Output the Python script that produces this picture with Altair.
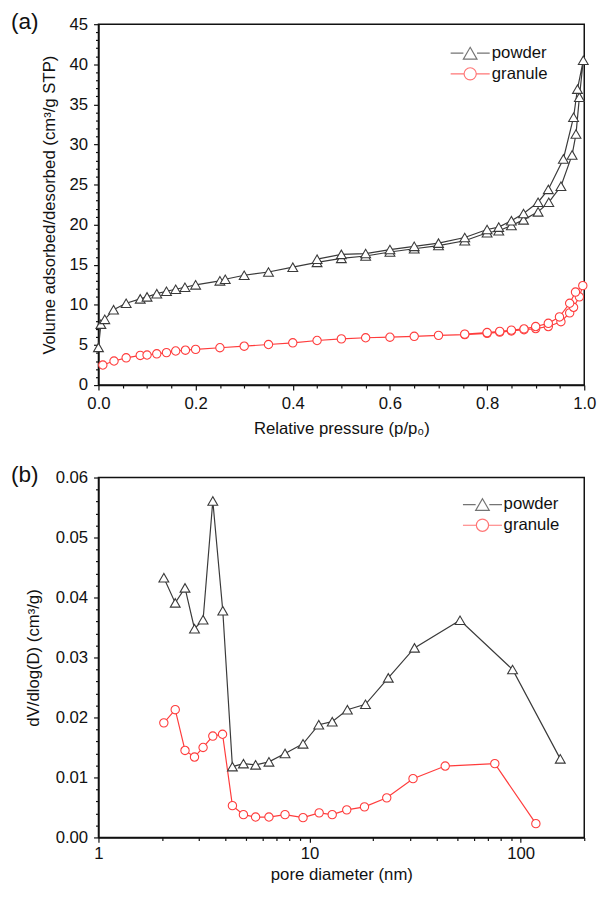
import altair as alt
import pandas as pd

# ---------------- panel (a): N2 isotherms ----------------
powder_p = [0.000, 0.005, 0.013, 0.031, 0.057, 0.086, 0.100, 0.120, 0.140, 0.159,
            0.178, 0.200, 0.250, 0.261, 0.300, 0.350, 0.400, 0.450, 0.500, 0.550,
            0.600, 0.650, 0.700, 0.754, 0.800, 0.824, 0.850, 0.875, 0.905, 0.927,
            0.952, 0.975, 0.983, 0.990, 0.998,
            0.986, 0.978, 0.957, 0.926, 0.905, 0.875, 0.850, 0.824, 0.800, 0.754,
            0.700, 0.650, 0.600, 0.550, 0.500, 0.450]
powder_v = [4.7, 7.6, 8.2, 9.4, 10.2, 10.75, 11.0, 11.4, 11.7, 11.95,
            12.2, 12.5, 13.0, 13.2, 13.7, 14.1, 14.7, 15.3, 15.8, 16.1,
            16.6, 17.0, 17.4, 18.0, 19.0, 19.25, 19.9, 20.6, 21.6, 22.8,
            24.8, 28.7, 31.3, 35.9, 40.5,
            36.9, 33.4, 28.2, 24.4, 22.8, 21.4, 20.5, 19.7, 19.4, 18.4,
            17.7, 17.3, 16.9, 16.4, 16.3, 15.7]

granule_p = [0.009, 0.032, 0.057, 0.086, 0.100, 0.120, 0.140, 0.159, 0.179, 0.200,
             0.250, 0.300, 0.350, 0.400, 0.450, 0.500, 0.550, 0.600, 0.650, 0.700,
             0.754, 0.800, 0.826, 0.850, 0.876, 0.900, 0.926, 0.952, 0.970, 0.978,
             0.990, 0.997,
             0.982, 0.970, 0.949, 0.926, 0.900, 0.876, 0.850, 0.826, 0.800, 0.754]
granule_v = [2.5, 3.0, 3.4, 3.7, 3.75, 3.9, 4.05, 4.25, 4.35, 4.45,
             4.66, 4.85, 5.06, 5.27, 5.56, 5.76, 5.9, 5.97, 6.08, 6.2,
             6.3, 6.45, 6.6, 6.75, 6.9, 7.05, 7.3, 7.9, 9.0, 9.7,
             11.0, 12.4,
             11.6, 10.2, 8.5, 7.7, 7.3, 7.0, 6.85, 6.7, 6.55, 6.35]

# ---------------- panel (b): pore size distribution ----------------
powder_d = [2.04, 2.31, 2.57, 2.85, 3.13, 3.48, 3.88, 4.31, 4.86, 5.55, 6.42,
            7.65, 9.31, 11.05, 12.8, 15.1, 18.4, 23.6, 31.4, 51.6, 91.5, 154]
powder_dv = [0.0433, 0.0391, 0.0416, 0.0348, 0.0363, 0.0561, 0.0378, 0.0118,
             0.0123, 0.0121, 0.0126, 0.0140, 0.0156, 0.0188, 0.0193, 0.0213,
             0.0222, 0.0266, 0.0316, 0.0362, 0.0280, 0.0131]
granule_d = [2.04, 2.31, 2.57, 2.85, 3.13, 3.48, 3.87, 4.31, 4.86, 5.55, 6.42,
             7.65, 9.31, 11.1, 12.8, 15.0, 18.2, 23.2, 30.9, 43.9, 75.4, 118]
granule_dv = [0.0191, 0.0213, 0.0145, 0.0134, 0.0150, 0.0169, 0.0172, 0.0053,
              0.0038, 0.0034, 0.0034, 0.0038, 0.0033, 0.0041, 0.0038, 0.0046,
              0.0051, 0.0066, 0.0098, 0.0119, 0.0123, 0.0023]

series_names = ["powder", "granule"]
series_colors = ["#3a3a3a", "#ff3c3c"]
series_shapes = ["triangle-up", "circle"]
series_sizes = [100, 72]

# tick labels / tick positions
a_x_major = [0.0, 0.2, 0.4, 0.6, 0.8, 1.0]
a_x_minor = [0.05, 0.1, 0.15, 0.25, 0.3, 0.35, 0.45, 0.5, 0.55, 0.65, 0.7, 0.75,
             0.85, 0.9, 0.95]
a_y_major = [0, 5, 10, 15, 20, 25, 30, 35, 40, 45]
a_y_minor = [1, 2, 3, 4, 6, 7, 8, 9, 11, 12, 13, 14, 16, 17, 18, 19, 21, 22, 23, 24,
             26, 27, 28, 29, 31, 32, 33, 34, 36, 37, 38, 39, 41, 42, 43, 44]
b_x_major = [1, 10, 100]
b_x_minor = [2, 3, 4, 5, 6, 7, 8, 9, 20, 30, 40, 50, 60, 70, 80, 90, 200]
b_y_major = [0.0, 0.01, 0.02, 0.03, 0.04, 0.05, 0.06]
b_y_minor = [0.002, 0.004, 0.006, 0.008, 0.012, 0.014, 0.016, 0.018, 0.022, 0.024,
             0.026, 0.028, 0.032, 0.034, 0.036, 0.038, 0.042, 0.044, 0.046, 0.048,
             0.052, 0.054, 0.056, 0.058]


def make_df(xs_list, ys_list):
    rows = []
    for name, xs, ys in zip(series_names, xs_list, ys_list):
        for i, (x, y) in enumerate(zip(xs, ys)):
            rows.append({"series": name, "x": x, "y": y, "idx": i})
    return pd.DataFrame(rows)


df_a = make_df([powder_p, granule_p], [powder_v, granule_v])
df_b = make_df([powder_d, granule_d], [powder_dv, granule_dv])

# legend glyphs: short line with the marker in the middle
TRI_PATH = "M-2.72,0H-0.95M0.95,0H2.72M0,-0.82L0.95,0.82L-0.95,0.82Z"
CIR_PATH = ("M-2.72,0H-0.85M0.85,0H2.72M0.85,0A0.85,0.85,0,1,1,-0.85,0"
            "A0.85,0.85,0,1,1,0.85,0Z")

color_scale = alt.Scale(domain=series_names, range=series_colors)
legend_shape_scale = alt.Scale(domain=series_names, range=[TRI_PATH, CIR_PATH])


def panel(df, xscale, yscale, xmajor, xminor, ymajor, yminor, xfmt, yfmt,
          xtitle, ytitle, label, lx, ly, lo, ytp, xlp, xtp, w, h):
    base = alt.Chart(df)
    leg = alt.Legend(title=None, orient="none", legendX=lx, legendY=ly,
                     symbolSize=213, symbolStrokeWidth=1.2, labelOffset=lo,
                     labelFontSize=17, labelFont="Liberation Sans",
                     labelColor="#111", rowPadding=3)
    main_x_axis = alt.Axis(values=xmajor, format=xfmt, title=xtitle,
                           orient="bottom", tickSize=5, labelPadding=xlp,
                           titlePadding=xtp, labelFlush=False, labelOverlap=False)
    main_y_axis = alt.Axis(values=ymajor, format=yfmt, title=ytitle,
                           orient="left", tickSize=5, labelPadding=6,
                           titlePadding=ytp, labelFlush=False, labelOverlap=False)
    layers = []
    first = True
    for name, col in zip(series_names, series_colors):
        layers.append(
            base.transform_filter(alt.datum.series == name).mark_line(
                strokeWidth=1.2, stroke=col
            ).encode(
                x=alt.X("x:Q", scale=xscale, axis=main_x_axis if first else None),
                y=alt.Y("y:Q", scale=yscale, axis=main_y_axis if first else None),
                order="idx:Q",
            )
        )
        first = False
    for name, col, shp, sz in zip(series_names, series_colors, series_shapes,
                                  series_sizes):
        layers.append(
            base.transform_filter(alt.datum.series == name).mark_point(
                filled=False, fill="white", fillOpacity=1, strokeWidth=1.1,
                opacity=1, shape=shp, size=sz, stroke=col
            ).encode(
                x=alt.X("x:Q", scale=xscale, axis=None),
                y=alt.Y("y:Q", scale=yscale, axis=None),
            )
        )
    legend_layer = base.transform_filter("false").mark_point(
        filled=False, fill="white", strokeWidth=1.2
    ).encode(
        color=alt.Color("series:N", scale=color_scale, legend=leg),
        shape=alt.Shape("series:N", scale=legend_shape_scale, legend=leg),
    )
    minor = base.mark_point(opacity=0).encode(
        x=alt.X("x:Q", scale=xscale,
                axis=alt.Axis(values=xminor, labels=False, title=None,
                              domain=False, tickSize=3, orient="bottom")),
        y=alt.Y("y:Q", scale=yscale,
                axis=alt.Axis(values=yminor, labels=False, title=None,
                              domain=False, tickSize=3, orient="left")),
    )
    layers += [legend_layer, minor]
    return alt.layer(*layers).resolve_axis(
        x="independent", y="independent"
    ).properties(
        width=w, height=h,
        title=alt.TitleParams(label, anchor="start", frame="group", orient="top",
                              offset=0, dx=-89, dy=30, baseline="middle",
                              fontSize=23, fontWeight="normal",
                              font="Liberation Sans", color="#111"),
    )


top = panel(df_a,
            alt.Scale(domain=[0, 1], nice=False, zero=False),
            alt.Scale(domain=[0, 45], nice=False),
            a_x_major, a_x_minor, a_y_major, a_y_minor, ".1f", "d",
            "Relative pressure (p/p\u2080)",
            "Volume adsorbed/desorbed (cm\u00b3/g STP)",
            "(a)", 369.5, 21, 13.5, 11, 6, 9, 494, 367)

bottom = panel(df_b,
               alt.Scale(type="log", domain=[1, 200], nice=False),
               alt.Scale(domain=[0, 0.06], nice=False),
               b_x_major, b_x_minor, b_y_major, b_y_minor, "d", ".2f",
               "pore diameter (nm)",
               "dV/dlog(D) (cm\u00b3/g)",
               "(b)", 382, 19, 13, 13, 3, 6, 494, 366)

chart = alt.vconcat(top, bottom, spacing=27).resolve_scale(
    color="independent", shape="independent"
).resolve_legend(
    color="independent", shape="independent"
).properties(
    padding={"left": 2, "top": -5, "right": 2, "bottom": 0},
    background="white",
).configure_view(
    fill="#f8f8f8", stroke="#111", strokeWidth=1.5
).configure_axis(
    grid=False, domainColor="#111", domainWidth=1.5, tickColor="#111",
    tickWidth=1.2, labelFont="Liberation Sans", labelFontSize=17,
    labelColor="#111", titleFont="Liberation Sans", titleFontSize=17,
    titleFontWeight="normal", titleColor="#111"
)

chart.save("out.html", embed_options={"renderer": "svg", "actions": False})
